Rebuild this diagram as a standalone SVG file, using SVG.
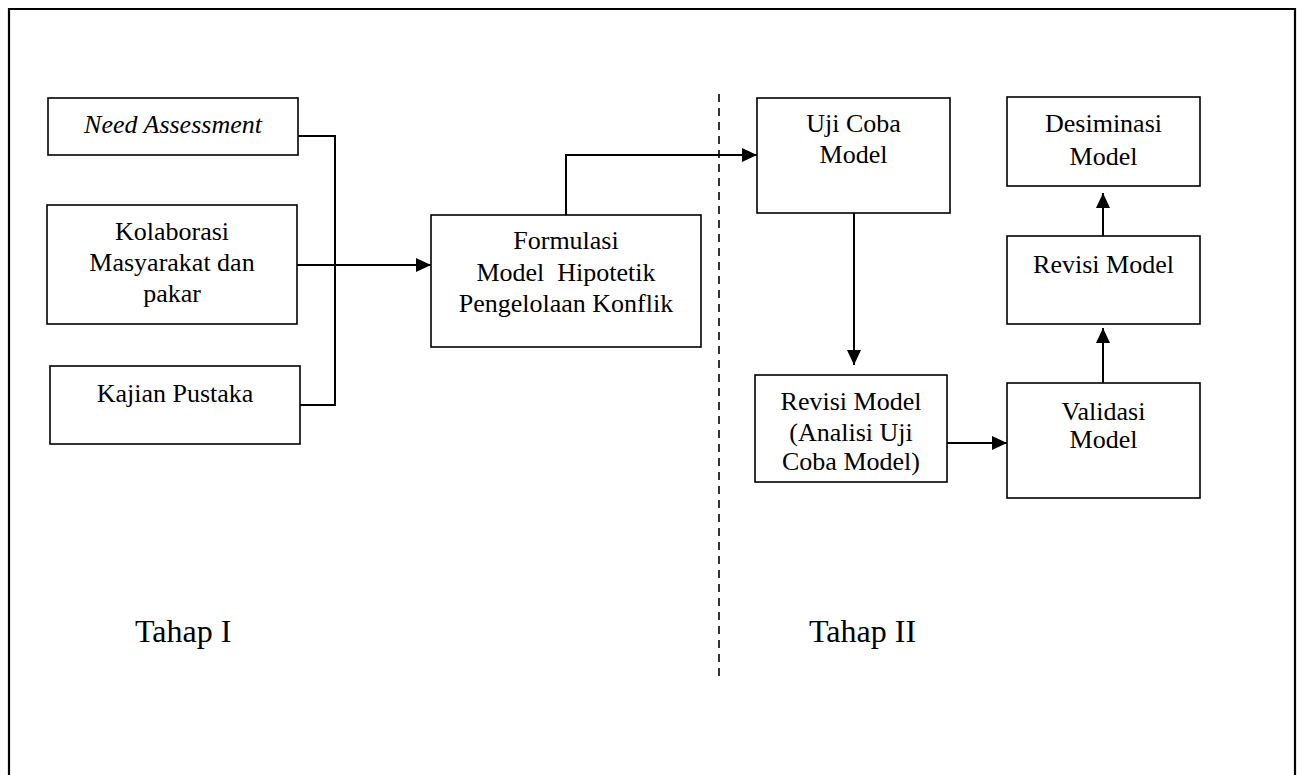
<svg xmlns="http://www.w3.org/2000/svg" width="1302" height="775" viewBox="0 0 1302 775">
<style>
.box{fill:#fff;stroke:#000;stroke-width:1.6}
.t{font-family:"Liberation Serif","Times New Roman",serif;font-size:26px;fill:#000;text-anchor:middle}
.big{font-family:"Liberation Serif","Times New Roman",serif;font-size:32px;fill:#000}
.c{fill:none;stroke:#000;stroke-width:2}
</style>
<defs>
<marker id="ah" markerUnits="userSpaceOnUse" markerWidth="16" markerHeight="14" refX="15" refY="7" orient="auto">
<path d="M0,0 L15,7 L0,14 z" fill="#000"/>
</marker>
</defs>
<rect width="1302" height="775" fill="#fff"/>
<path d="M9,776 V9 H1295 V776" fill="none" stroke="#000" stroke-width="2.2"/>
<line x1="719" y1="94" x2="719" y2="678" stroke="#000" stroke-width="1.6" stroke-dasharray="8,6"/>

<g id="connectors">
<path class="c" d="M298,136 H335 V405 H297"/>
<path class="c" d="M297,265 H431" marker-end="url(#ah)"/>
<path class="c" d="M566,215 V155 H757" marker-end="url(#ah)"/>
<path class="c" d="M854,213 V365" marker-end="url(#ah)"/>
<path class="c" d="M947,443 H1007" marker-end="url(#ah)"/>
<path class="c" d="M1103,383 V328" marker-end="url(#ah)"/>
<path class="c" d="M1103,236 V193" marker-end="url(#ah)"/>
</g>

<g id="need">
<rect class="box" x="48" y="98" width="250" height="57"/>
<text class="t" x="173" y="133" font-style="italic">Need Assessment</text>
</g>
<g id="kolaborasi">
<rect class="box" x="47" y="205" width="250" height="119"/>
<text class="t" x="172" y="240">Kolaborasi</text>
<text class="t" x="172" y="271">Masyarakat dan</text>
<text class="t" x="172" y="302">pakar</text>
</g>
<g id="kajian">
<rect class="box" x="50" y="366" width="250" height="78"/>
<text class="t" x="175" y="402">Kajian Pustaka</text>
</g>
<g id="formulasi">
<rect class="box" x="431" y="215" width="270" height="132"/>
<text class="t" x="566" y="249">Formulasi</text>
<text class="t" x="566" y="281" xml:space="preserve">Model  Hipotetik</text>
<text class="t" x="566" y="312">Pengelolaan Konflik</text>
</g>
<g id="ujicoba">
<rect class="box" x="757" y="98" width="193" height="115"/>
<text class="t" x="853.5" y="132">Uji Coba</text>
<text class="t" x="853.5" y="163">Model</text>
</g>
<g id="revisi1">
<rect class="box" x="755" y="375" width="192" height="107"/>
<text class="t" x="851" y="410">Revisi Model</text>
<text class="t" x="851" y="441">(Analisi Uji</text>
<text class="t" x="851" y="470">Coba Model)</text>
</g>
<g id="validasi">
<rect class="box" x="1007" y="383" width="193" height="115"/>
<text class="t" x="1103.5" y="420">Validasi</text>
<text class="t" x="1103.5" y="448">Model</text>
</g>
<g id="revisi2">
<rect class="box" x="1007" y="236" width="193" height="88"/>
<text class="t" x="1103.5" y="273">Revisi Model</text>
</g>
<g id="desiminasi">
<rect class="box" x="1007" y="97" width="193" height="89"/>
<text class="t" x="1103.5" y="132">Desiminasi</text>
<text class="t" x="1103.5" y="165">Model</text>
</g>
<g id="labels">
<text class="big" x="135" y="642">Tahap I</text>
<text class="big" x="809" y="642">Tahap II</text>
</g>
</svg>
